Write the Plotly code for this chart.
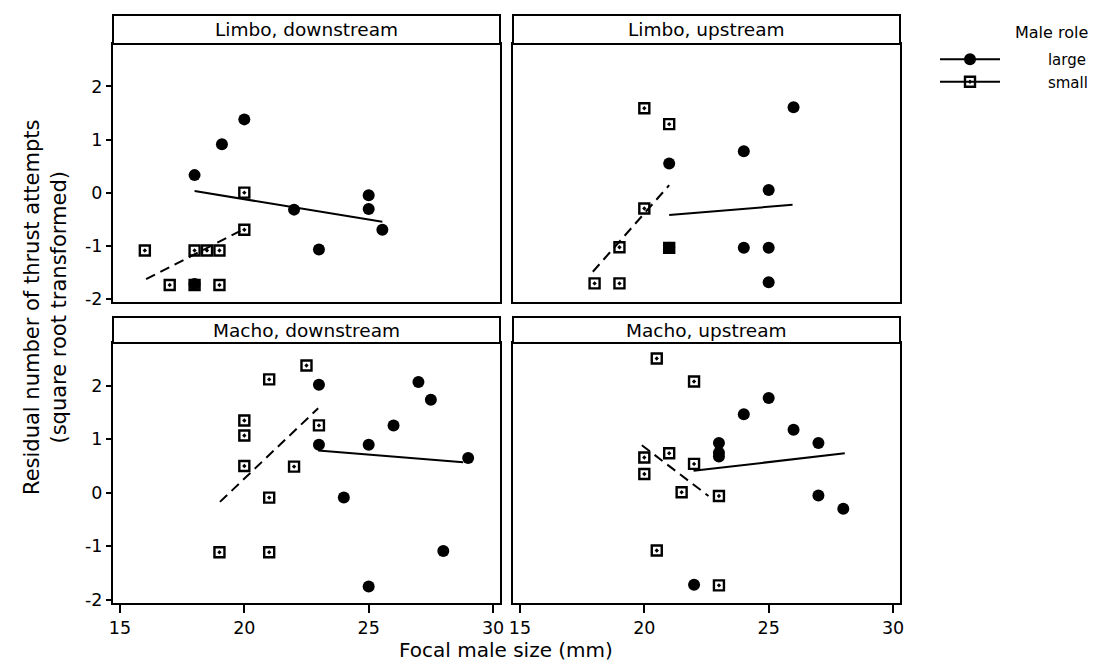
import plotly.graph_objects as go

# window is 1101x670; the page body places the figure 8px in from each edge
OFF = 8
W, H = 1101 - 2 * OFF, 670 - 2 * OFF

panel_titles = ["Limbo, downstream", "Limbo, upstream", "Macho, downstream", "Macho, upstream"]

# Limbo, downstream
ld_large_x = [18, 19.1, 20, 22, 23, 25, 25, 25.55, 18]
ld_large_y = [0.33, 0.91, 1.38, -0.32, -1.07, -0.05, -0.31, -0.70, -1.72]
ld_small_x = [16, 17, 18, 18.5, 19, 19, 20, 20, 18]
ld_small_y = [-1.09, -1.74, -1.09, -1.09, -1.09, -1.74, -0.70, 0.0, -1.74]
ld_fit_large_x = [18, 25.55]
ld_fit_large_y = [0.03, -0.55]
ld_fit_small_x = [16.05, 19.93]
ld_fit_small_y = [-1.63, -0.70]

# Limbo, upstream
lu_large_x = [26, 24, 21, 25, 21, 24, 25, 25]
lu_large_y = [1.61, 0.78, 0.55, 0.05, -1.04, -1.04, -1.04, -1.69]
lu_small_x = [20, 21, 20, 19, 18, 19, 21]
lu_small_y = [1.59, 1.29, -0.30, -1.03, -1.71, -1.71, -1.04]
lu_fit_large_x = [21, 25.96]
lu_fit_large_y = [-0.42, -0.23]
lu_fit_small_x = [17.93, 21.0]
lu_fit_small_y = [-1.49, 0.14]

# Macho, downstream
md_large_x = [23, 27, 27.5, 26, 23, 25, 29, 24, 28, 25]
md_large_y = [2.02, 2.07, 1.74, 1.26, 0.90, 0.90, 0.65, -0.09, -1.09, -1.75]
md_small_x = [22.5, 21, 20, 20, 23, 20, 22, 21, 19, 21]
md_small_y = [2.38, 2.12, 1.35, 1.07, 1.26, 0.50, 0.49, -0.09, -1.11, -1.11]
md_fit_large_x = [22.97, 28.8]
md_fit_large_y = [0.79, 0.57]
md_fit_small_x = [19.02, 22.97]
md_fit_small_y = [-0.17, 1.58]

# Macho, upstream
mu_large_x = [25, 24, 26, 27, 23, 23, 23, 27, 28, 22]
mu_large_y = [1.77, 1.47, 1.18, 0.93, 0.93, 0.75, 0.68, -0.05, -0.30, -1.72]
mu_small_x = [20.5, 22, 21, 20, 20, 22, 21.5, 23, 20.5, 23]
mu_small_y = [2.51, 2.08, 0.74, 0.66, 0.35, 0.54, 0.01, -0.06, -1.08, -1.73]
mu_fit_large_x = [21.98, 28.06]
mu_fit_large_y = [0.41, 0.74]
mu_fit_small_x = [19.9, 22.58]
mu_fit_small_y = [0.89, -0.06]

x_ticks = [15, 20, 25, 30]
y_ticks = [-2, -1, 0, 1, 2]
y_ticktext = ["-2", "-1", "0", "1", "2"]
legend_names = ["large", "small"]

FONT = "DejaVu Sans"

panels = [
    (ld_large_x, ld_large_y, ld_small_x, ld_small_y, ld_fit_large_x, ld_fit_large_y, ld_fit_small_x, ld_fit_small_y),
    (lu_large_x, lu_large_y, lu_small_x, lu_small_y, lu_fit_large_x, lu_fit_large_y, lu_fit_small_x, lu_fit_small_y),
    (md_large_x, md_large_y, md_small_x, md_small_y, md_fit_large_x, md_fit_large_y, md_fit_small_x, md_fit_small_y),
    (mu_large_x, mu_large_y, mu_small_x, mu_small_y, mu_fit_large_x, mu_fit_large_y, mu_fit_small_x, mu_fit_small_y),
]

fig = go.Figure()

large_marker = dict(symbol="circle", size=12, color="black")
small_marker = dict(symbol="square-open-dot", size=10, color="black", line=dict(width=2.4, color="black"))

for i, (lx, ly, sx, sy, flx, fly, fsx, fsy) in enumerate(panels):
    xa = "x" if i == 0 else f"x{i+1}"
    ya = "y" if i == 0 else f"y{i+1}"
    fig.add_trace(go.Scatter(x=flx, y=fly, mode="lines", line=dict(color="black", width=2),
                             xaxis=xa, yaxis=ya, showlegend=False, hoverinfo="skip"))
    fig.add_trace(go.Scatter(x=fsx, y=fsy, mode="lines", line=dict(color="black", width=2, dash="10px,6px"),
                             xaxis=xa, yaxis=ya, showlegend=False, hoverinfo="skip"))
    fig.add_trace(go.Scatter(x=sx, y=sy, mode="markers", marker=small_marker,
                             xaxis=xa, yaxis=ya, showlegend=False))
    fig.add_trace(go.Scatter(x=lx, y=ly, mode="markers", marker=large_marker,
                             xaxis=xa, yaxis=ya, showlegend=False))

# legend entries (names padded so the text sits right of a gap, as in the original)
PAD = "\u00a0" * 9
fig.add_trace(go.Scatter(x=[None], y=[None], mode="lines+markers", name=PAD + legend_names[0],
                         marker=large_marker, line=dict(color="black", width=2)))
fig.add_trace(go.Scatter(x=[None], y=[None], mode="lines+markers", name=PAD + legend_names[1],
                         marker=small_marker, line=dict(color="black", width=2)))


def px_x(p):
    return (p - OFF) / W


def px_y(p):
    return 1 - (p - OFF) / H


col_dom = [(113, 500), (513, 900)]
row_plot = [(44, 302), (343, 603)]
row_strip = [(15, 44), (317, 343)]

xrange_ = [14.72, 30.28]
yrange_ = [-2.06, 2.8]

axis_common = dict(showline=True, linecolor="black", linewidth=2, mirror=True,
                   showgrid=False, zeroline=False, ticks="outside", ticklen=6,
                   tickwidth=1.5, tickcolor="black", automargin=False,
                   tickfont=dict(family=FONT, size=17.5, color="black"))

layout = {}
shapes = []
annotations = []
for i in range(4):
    r, c = divmod(i, 2)
    xs = "xaxis" if i == 0 else f"xaxis{i+1}"
    ys = "yaxis" if i == 0 else f"yaxis{i+1}"
    ya_name = "y" if i == 0 else f"y{i+1}"
    xa_name = "x" if i == 0 else f"x{i+1}"
    x0, x1 = col_dom[c]
    t, b = row_plot[r]
    xd = dict(axis_common)
    xd.update(domain=[px_x(x0), px_x(x1)], range=xrange_, anchor=ya_name,
              tickvals=x_ticks, ticklen=8)
    if r == 0:
        xd.update(ticks="", showticklabels=False)
    yd = dict(axis_common)
    yd.update(domain=[px_y(b), px_y(t)], range=yrange_, anchor=xa_name,
              tickvals=y_ticks, ticktext=y_ticktext, ticklen=5)
    if c == 1:
        yd.update(ticks="", showticklabels=False)
    layout[xs] = xd
    layout[ys] = yd
    st, sb = row_strip[r]
    shapes.append(dict(type="rect", xref="paper", yref="paper",
                       x0=px_x(x0), x1=px_x(x1), y0=px_y(sb), y1=px_y(st),
                       line=dict(color="black", width=2), fillcolor="white"))
    annotations.append(dict(text=panel_titles[i], xref="paper", yref="paper",
                            x=px_x((x0 + x1) / 2), y=px_y((st + sb) / 2),
                            xanchor="center", yanchor="middle", showarrow=False,
                            font=dict(family=FONT, size=18.5, color="black")))

annotations.append(dict(text="Focal male size (mm)", xref="paper", yref="paper",
                        x=px_x(506), y=px_y(650), xanchor="center", yanchor="middle",
                        showarrow=False, font=dict(family=FONT, size=20, color="black")))
annotations.append(dict(text="Residual number of thrust attempts<br>(square root transformed)",
                        xref="paper", yref="paper", x=px_x(45), y=px_y(308),
                        xanchor="center", yanchor="middle", textangle=-90,
                        showarrow=False, font=dict(family=FONT, size=21, color="black")))
annotations.append(dict(text="Male role", xref="paper", yref="paper",
                        x=px_x(1090), y=px_y(33), xanchor="right", yanchor="middle",
                        showarrow=False, font=dict(family=FONT, size=16, color="black")))

fig.update_layout(
    width=W, height=H,
    margin=dict(l=0, r=0, t=0, b=0, autoexpand=False),
    paper_bgcolor="white", plot_bgcolor="white",
    shapes=shapes, annotations=annotations,
    legend=dict(font=dict(family=FONT, size=15, color="black"),
                x=px_x(935), y=px_y(43), xanchor="left", yanchor="top",
                itemwidth=60, tracegroupgap=0,
                bgcolor="rgba(0,0,0,0)"),
    **layout,
)

fig.write_html("out.html")
